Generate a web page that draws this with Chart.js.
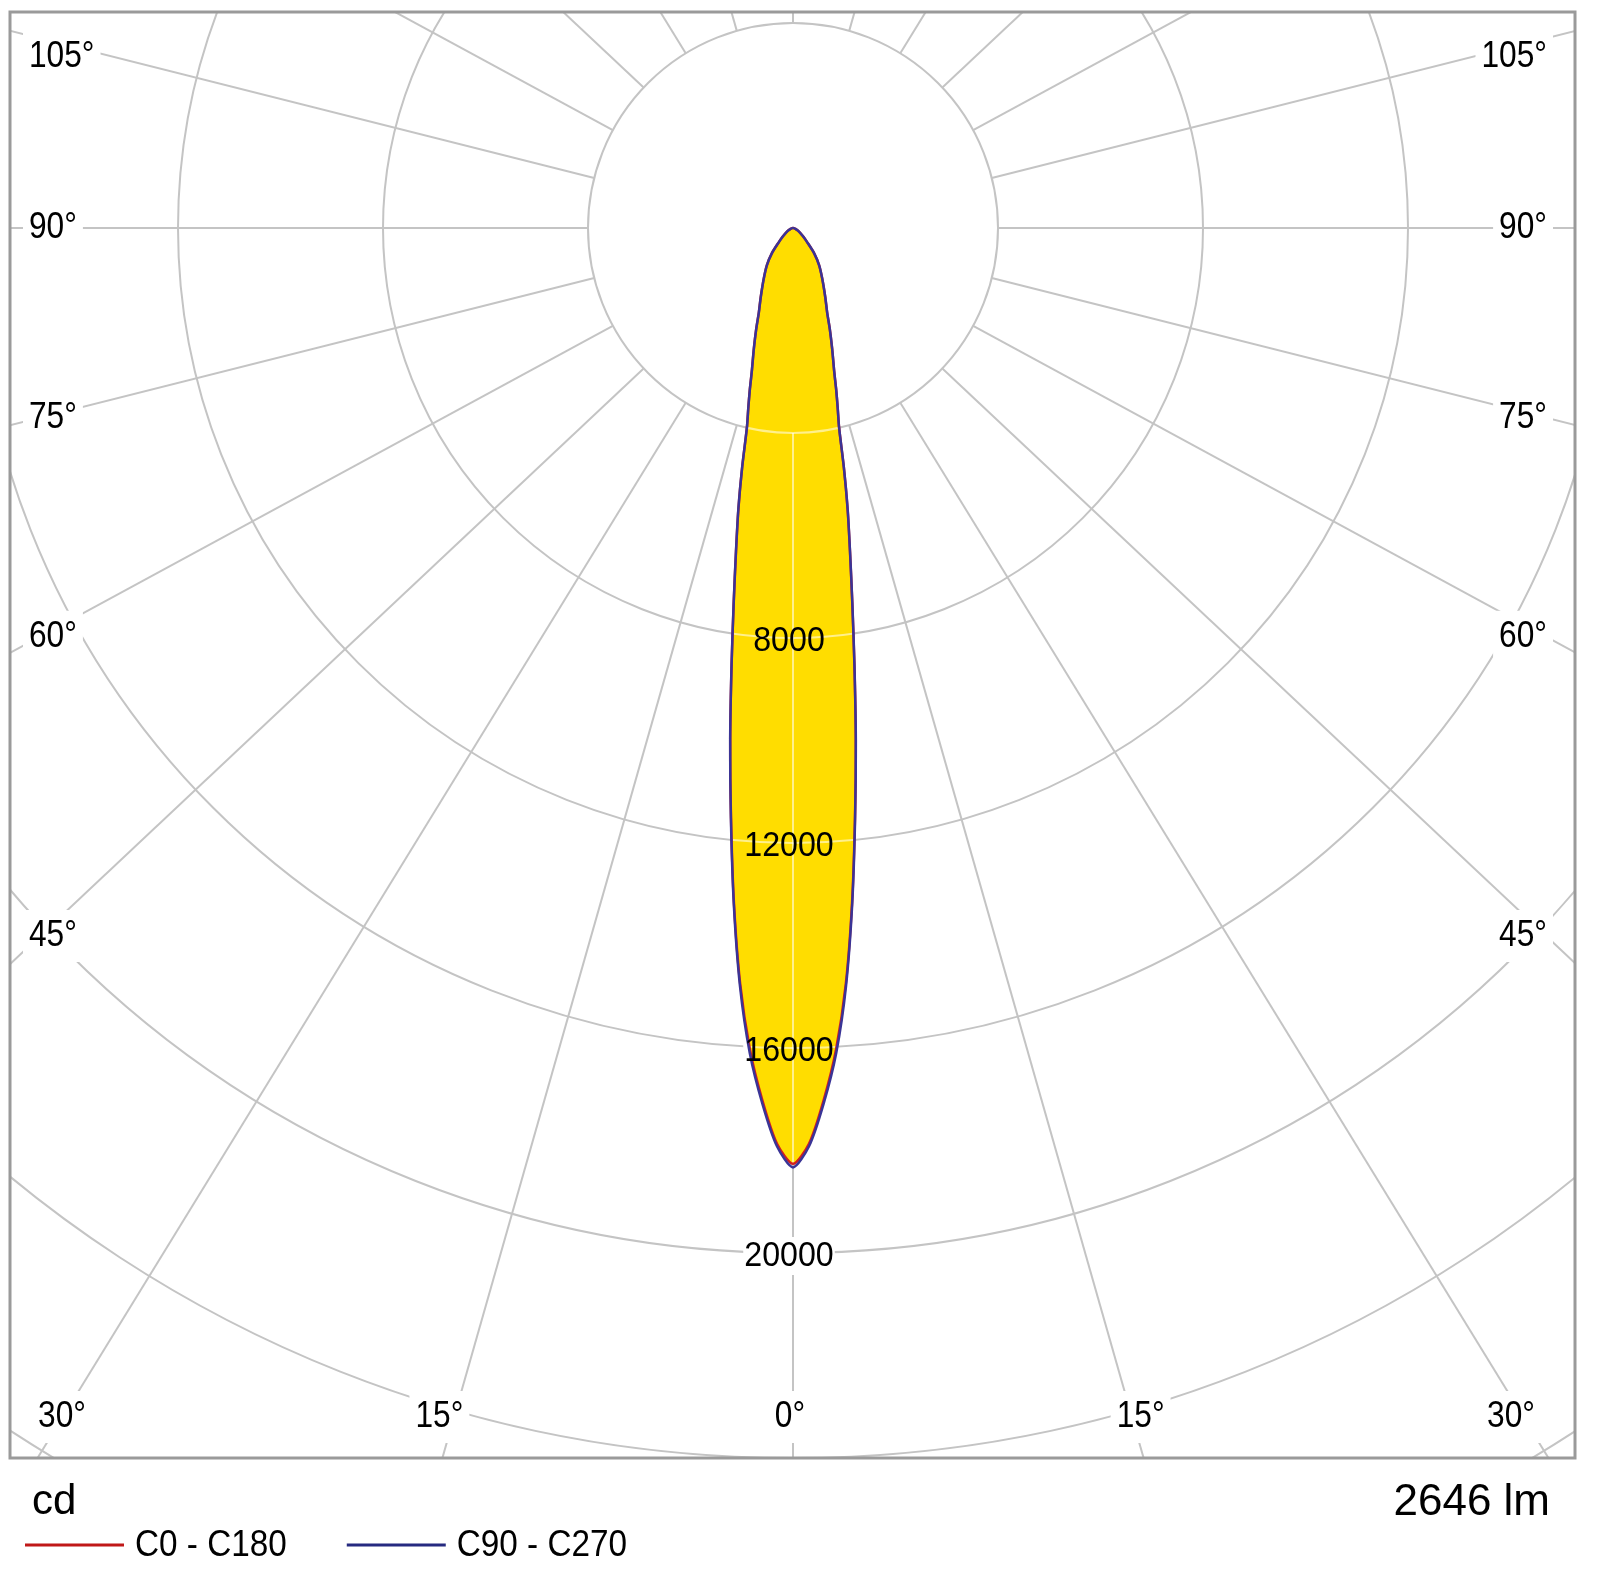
<!DOCTYPE html>
<html>
<head>
<meta charset="utf-8">
<title>Luminous intensity distribution</title>
<script src="https://cdn.jsdelivr.net/npm/chart.js@4.4.1/dist/chart.umd.min.js"></script>
<style>
  html, body { margin: 0; padding: 0; background: #fff; }
  #wrap { width: 1600px; height: 1572px; }
</style>
</head>
<body>
<div id="wrap"><canvas id="ldc" width="1600" height="1572"></canvas></div>
<script>
// gamma angle from nadir (deg) and intensity (cd) for each C-plane pair
const gammaAngles = [0, 1, 2, 3, 4, 5, 6, 7, 8, 9, 10, 11, 12, 13, 14, 15, 16, 18, 20, 22, 25, 30, 35, 40, 45, 50, 60, 70, 80, 90];
const c0c180 = [18260, 17870, 17040, 16050, 14780, 13220, 11570, 10050, 8610, 7390, 6400, 5580, 4770, 4000, 3600, 3250, 2920, 2470, 2100, 1780, 1490, 1140, 890, 640, 390, 260, 130, 50, 15, 0];
const c90c270 = [18330, 17920, 17100, 16120, 14830, 13250, 11590, 10060, 8620, 7400, 6410, 5590, 4770, 4000, 3600, 3250, 2920, 2470, 2100, 1780, 1490, 1140, 890, 640, 390, 260, 130, 50, 15, 0];
const seriesNames = ['C0 - C180', 'C90 - C270'];

// polar grid
const ringValues = [4000, 8000, 12000, 16000, 20000, 24000, 28000];
const ringLabelValues = [8000, 12000, 16000, 20000];
const rayAngles = [0, 15, 30, 45, 60, 75, 90, 105, 120, 135, 150, 165, 180, 195, 210, 225, 240, 255, 270, 285, 300, 315, 330, 345];
const sideLabelAngles = [105, 90, 75, 60, 45];
const bottomLabelAngles = [-30, -15, 0, 15, 30];
const unitText = 'cd';
const fluxText = '2646 lm';

// layout
const AREA = { left: 10, top: 12, right: 1575, bottom: 1458 };
const CENTER = { x: 793, y: 228 };
const PX_PER_CD = 205 / 4000;
const RAY_SQUASH = 0.94;
const FONT = '"Liberation Sans", Arial, sans-serif';
const GRID_COLOR = '#c4c4c4';

const rad = d => d * Math.PI / 180;

function polarPoints(values) {
    const pts = [];
    for (let i = gammaAngles.length - 1; i >= 0; i--) {
        const a = rad(gammaAngles[i]);
        pts.push({ x: -values[i] * Math.sin(a), y: -values[i] * Math.cos(a) });
    }
    for (let i = 1; i < gammaAngles.length; i++) {
        const a = rad(gammaAngles[i]);
        pts.push({ x: values[i] * Math.sin(a), y: -values[i] * Math.cos(a) });
    }
    return pts;
}

function rayEnds(deg) {
    const a = rad(deg);
    const ux = Math.sin(a), uy = -Math.cos(a) * RAY_SQUASH;
    const n = Math.hypot(ux, uy);
    return { x0: ringValues[0] * ux / n, y0: ringValues[0] * uy / n, x1: 60000 * ux / n, y1: 60000 * uy / n };
}

function strokeGrid(chart, color) {
    const { ctx, scales: { x, y } } = chart;
    const cx = x.getPixelForValue(0), cy = y.getPixelForValue(0);
    ctx.strokeStyle = color;
    ctx.lineWidth = 2;
    ringValues.forEach(v => {
        ctx.beginPath();
        ctx.arc(cx, cy, x.getPixelForValue(v) - cx, 0, Math.PI * 2);
        ctx.stroke();
    });
    rayAngles.forEach(d => {
        const r = rayEnds(d);
        ctx.beginPath();
        ctx.moveTo(x.getPixelForValue(r.x0), y.getPixelForValue(r.y0));
        ctx.lineTo(x.getPixelForValue(r.x1), y.getPixelForValue(r.y1));
        ctx.stroke();
    });
}

// every text label of the diagram, with its white backing box
function gridLabels(chart) {
    const { ctx, chartArea: ca, scales: { x, y } } = chart;
    const cx = x.getPixelForValue(0), cy = y.getPixelForValue(0);
    const out = [];
    const angFont = '36px ' + FONT;
    sideLabelAngles.forEach(d => {
        const a = rad(d);
        const dl = cx - (ca.left + 75);
        const yy = Math.max(ca.top + 45, cy + dl * Math.cos(a) / Math.sin(a));
        out.push({ text: d + '°', x: ca.left + 19, y: yy, font: angFont, sx: 0.88, align: 'left' });
        out.push({ text: d + '°', x: ca.right - 28, y: yy, font: angFont, sx: 0.88, align: 'right' });
    });
    bottomLabelAngles.forEach(d => {
        const xx = cx + (ca.bottom - cy) * Math.tan(rad(d)) / RAY_SQUASH;
        const cl = Math.min(ca.right - 64, Math.max(ca.left + 52, xx - 3));
        out.push({ text: Math.abs(d) + '°', x: cl, y: ca.bottom - 41, font: angFont, sx: 0.88, align: 'center' });
    });
    ringLabelValues.forEach(v => {
        out.push({ text: String(v), x: cx - 4, y: y.getPixelForValue(-v) + 3, font: '35px ' + FONT, sx: 0.92, align: 'center', padX: 1, padY: 5 });
    });
    out.forEach(t => {
        ctx.save();
        ctx.font = t.font;
        t.w = ctx.measureText(t.text).width * t.sx;
        ctx.restore();
    });
    return out;
}

function drawText(ctx, t) {
    ctx.save();
    ctx.font = t.font;
    ctx.fillStyle = '#000';
    ctx.textBaseline = t.baseline || 'middle';
    ctx.textAlign = t.align;
    ctx.translate(t.x, t.y);
    ctx.scale(t.sx || 1, 1);
    ctx.fillText(t.text, 0, 0);
    ctx.restore();
}

const polarGrid = {
    id: 'polarGrid',
    beforeDraw(chart) {
        const { ctx, chartArea: ca } = chart;
        ctx.save();
        ctx.fillStyle = '#fff';
        ctx.fillRect(0, 0, chart.width, chart.height);
        ctx.beginPath();
        ctx.rect(ca.left, ca.top, ca.right - ca.left, ca.bottom - ca.top);
        ctx.clip();
        strokeGrid(chart, GRID_COLOR);
        // white boxes behind labels
        ctx.fillStyle = '#fff';
        gridLabels(chart).forEach(t => {
            const px = t.padX !== undefined ? t.padX : 6;
            const py = t.padY !== undefined ? t.padY : 12;
            let left = t.x - px;
            if (t.align === 'right') left = t.x - t.w - px;
            if (t.align === 'center') left = t.x - t.w / 2 - px;
            ctx.fillRect(left, t.y - 14 - py, t.w + px * 2, 28 + py * 2);
        });
        ctx.restore();
    },
    beforeDatasetsDraw(chart) {
        // grid seen faintly through the beam
        const { ctx, scales: { x, y } } = chart;
        const pts = polarPoints(c0c180);
        ctx.save();
        ctx.beginPath();
        pts.forEach((p, i) => {
            const px = x.getPixelForValue(p.x), py = y.getPixelForValue(p.y);
            if (i === 0) ctx.moveTo(px, py); else ctx.lineTo(px, py);
        });
        ctx.closePath();
        ctx.clip();
        strokeGrid(chart, 'rgba(255,255,255,0.55)');
        ctx.restore();
    },
    afterDraw(chart) {
        const { ctx, chartArea: ca } = chart;
        gridLabels(chart).forEach(t => drawText(ctx, t));

        ctx.save();
        ctx.strokeStyle = '#9a9a9a';
        ctx.lineWidth = 3;
        ctx.strokeRect(ca.left, ca.top, ca.right - ca.left, ca.bottom - ca.top);
        ctx.restore();

        drawText(ctx, { text: unitText, x: ca.left + 22, y: ca.bottom + 56, font: '42px ' + FONT, align: 'left', baseline: 'alphabetic' });
        drawText(ctx, { text: fluxText, x: ca.right - 25, y: ca.bottom + 57, font: '44px ' + FONT, align: 'right', baseline: 'alphabetic' });

        // legend
        let lx = ca.left + 15;
        const ly = ca.bottom + 87;
        chart.data.datasets.forEach(ds => {
            ctx.save();
            ctx.strokeStyle = ds.legendColor;
            ctx.lineWidth = 3;
            ctx.beginPath();
            ctx.moveTo(lx, ly);
            ctx.lineTo(lx + 99, ly);
            ctx.stroke();
            ctx.restore();
            const t = { text: ds.label, x: lx + 110, y: ly + 1, font: '37px ' + FONT, sx: 0.9, align: 'left' };
            drawText(ctx, t);
            ctx.save();
            ctx.font = t.font;
            const w = ctx.measureText(t.text).width * t.sx;
            ctx.restore();
            lx = lx + 110 + w + 60;
        });
    }
};

const xMin = -(CENTER.x - AREA.left) / PX_PER_CD;
const xMax = (AREA.right - CENTER.x) / PX_PER_CD;
const yMax = (CENTER.y - AREA.top) / PX_PER_CD;
const yMin = -(AREA.bottom - CENTER.y) / PX_PER_CD;

new Chart(document.getElementById('ldc'), {
    type: 'line',
    data: {
        datasets: [{
            label: seriesNames[0],
            data: polarPoints(c0c180),
            borderColor: '#d21f1f',
            legendColor: '#c01818',
            borderWidth: 2.5,
            backgroundColor: '#FFDD00',
            fill: 'shape',
            pointRadius: 0,
            tension: 0.25,
            order: 2
        }, {
            label: seriesNames[1],
            data: polarPoints(c90c270),
            borderColor: '#3a3496',
            legendColor: '#262a80',
            borderWidth: 2.5,
            fill: false,
            pointRadius: 0,
            tension: 0.25,
            order: 1
        }]
    },
    options: {
        responsive: false,
        animation: false,
        devicePixelRatio: 1,
        layout: {
            padding: { left: AREA.left, top: AREA.top, right: 1600 - AREA.right, bottom: 1572 - AREA.bottom }
        },
        scales: {
            x: { type: 'linear', min: xMin, max: xMax, display: false },
            y: { type: 'linear', min: yMin, max: yMax, display: false }
        },
        plugins: {
            legend: { display: false },
            tooltip: { enabled: false },
            filler: { drawTime: 'beforeDatasetsDraw' }
        }
    },
    plugins: [polarGrid]
});
</script>
</body>
</html>
